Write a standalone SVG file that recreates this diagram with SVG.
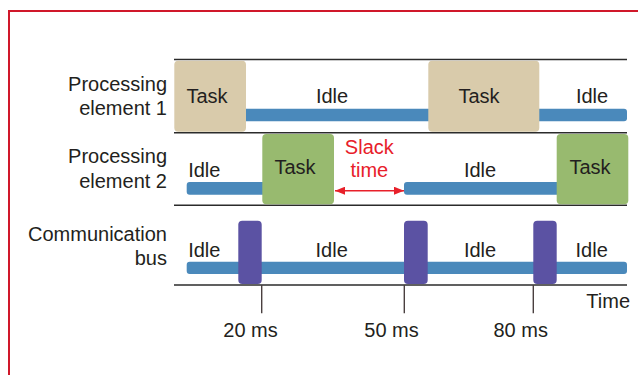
<svg xmlns="http://www.w3.org/2000/svg" width="638" height="375" viewBox="0 0 638 375">
  <defs>
    <style>
      text { font-family: "Liberation Sans", Arial, sans-serif; font-size: 20px; fill: #231f20; }
      .lbl { text-anchor: end; }
      .mid { text-anchor: middle; }
      .slack { fill: #e8202a; text-anchor: middle; }
      .rule { stroke: #2b2b2b; stroke-width: 1.4; fill: none; }
      .tick { stroke: #4a4040; stroke-width: 1.4; fill: none; }
      .idle { fill: #4a89bb; }
      .task1 { fill: #d9cbab; }
      .task2 { fill: #98ba6f; }
      .comm { fill: #5b52a3; }
      .frame { stroke: #d0182a; stroke-width: 2; fill: none; }
    </style>
    <marker id="arrowhead" viewBox="0 0 10 8" refX="10" refY="4" markerWidth="10" markerHeight="8" markerUnits="userSpaceOnUse" orient="auto-start-reverse">
      <path d="M0,0 L10,4 L0,8 Z" fill="#e8202a"/>
    </marker>
  </defs>

  <!-- panel frame -->
  <path class="frame" d="M9,375 V11 H638"/>

  <!-- row separators and time axis -->
  <g id="rules">
    <line class="rule" x1="174" y1="59.5" x2="627" y2="59.5"/>
    <line class="rule" x1="174" y1="132.8" x2="627" y2="132.8"/>
    <line class="rule" x1="174" y1="205.3" x2="627" y2="205.3"/>
    <line class="rule" x1="174" y1="285" x2="627" y2="285"/>
  </g>

  <!-- row labels -->
  <g id="row-labels">
    <text class="lbl" x="167" y="90.7">Processing</text>
    <text class="lbl" x="167" y="115">element 1</text>
    <text class="lbl" x="167" y="163.3">Processing</text>
    <text class="lbl" x="167" y="188.3">element 2</text>
    <text class="lbl" x="167" y="241">Communication</text>
    <text class="lbl" x="167" y="265">bus</text>
  </g>

  <!-- processing element 1 -->
  <g id="pe1">
    <rect class="idle" x="236" y="108.8" width="391" height="12.4" rx="3"/>
    <rect class="task1" x="174.3" y="60.7" width="71.7" height="71" rx="4"/>
    <rect class="task1" x="428.3" y="60.7" width="111" height="71" rx="4"/>
    <text class="mid" x="207" y="102.7">Task</text>
    <text class="mid" x="332" y="103">Idle</text>
    <text class="mid" x="479" y="102.7">Task</text>
    <text class="mid" x="592" y="103">Idle</text>
  </g>

  <!-- processing element 2 -->
  <g id="pe2">
    <rect class="idle" x="186.7" y="182" width="85" height="12.7" rx="3"/>
    <rect class="idle" x="404" y="182" width="163" height="12.7" rx="3"/>
    <rect class="task2" x="262.3" y="134" width="71.7" height="70.3" rx="4"/>
    <rect class="task2" x="556.7" y="134" width="71.6" height="70.3" rx="4"/>
    <text class="mid" x="204.3" y="177">Idle</text>
    <text class="mid" x="295" y="174.3">Task</text>
    <text class="mid" x="480" y="177">Idle</text>
    <text class="mid" x="590" y="174.3">Task</text>
  </g>

  <!-- slack interval between the two tasks -->
  <g id="slack">
    <text class="slack" x="369.3" y="154.3">Slack</text>
    <text class="slack" x="369.3" y="177.3">time</text>
  </g>

  <!-- communication bus -->
  <g id="bus">
    <rect class="idle" x="186.7" y="261.7" width="440.3" height="12.4" rx="3"/>
    <rect class="comm" x="238.3" y="220.7" width="23.4" height="63.3" rx="4"/>
    <rect class="comm" x="404" y="220.7" width="23.7" height="63.3" rx="4"/>
    <rect class="comm" x="533.3" y="220.7" width="23.4" height="63.3" rx="4"/>
    <text class="mid" x="204.3" y="256.7">Idle</text>
    <text class="mid" x="331.7" y="256.7">Idle</text>
    <text class="mid" x="480" y="256.7">Idle</text>
    <text class="mid" x="591.7" y="256.7">Idle</text>
  </g>

  <!-- time axis ticks and labels -->
  <g id="axis">
    <line class="tick" x1="261.7" y1="285" x2="261.7" y2="313.3"/>
    <line class="tick" x1="404.3" y1="285" x2="404.3" y2="313.3"/>
    <line class="tick" x1="533.3" y1="285" x2="533.3" y2="313.3"/>
    <text class="lbl" x="630" y="308">Time</text>
    <text class="mid" x="250.5" y="336.7">20 ms</text>
    <text class="mid" x="391.5" y="336.7">50 ms</text>
    <text class="mid" x="520.7" y="336.7">80 ms</text>
  </g>

  <!-- connectors -->
  <g id="connectors">
    <line x1="335" y1="190.7" x2="404" y2="190.7" stroke="#e8202a" stroke-width="1.6" marker-start="url(#arrowhead)" marker-end="url(#arrowhead)"/>
  </g>
</svg>
